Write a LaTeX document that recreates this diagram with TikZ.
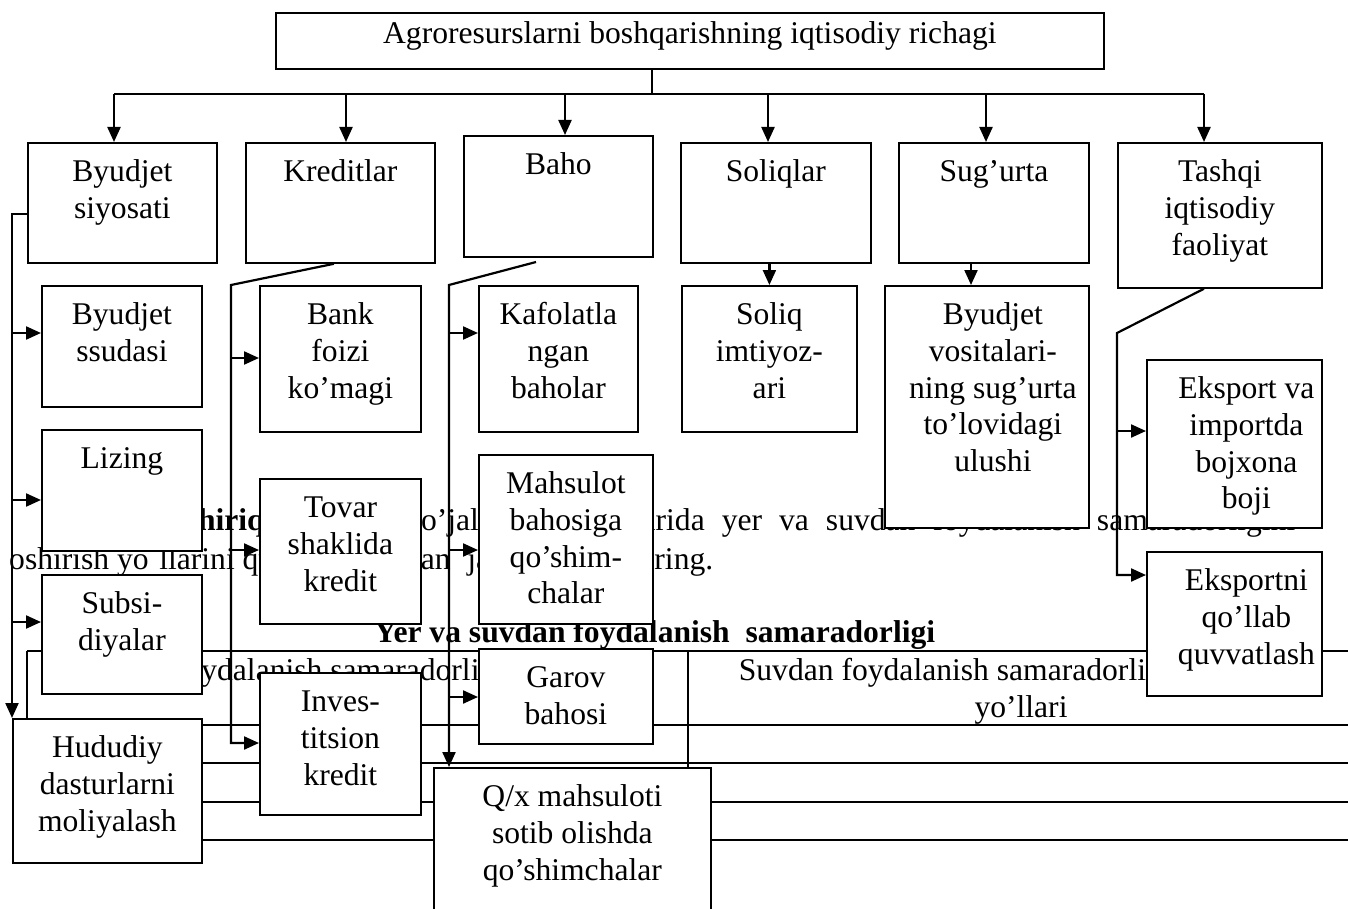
\documentclass[tikz,border=0pt]{standalone}
\usepackage{fontspec}
\setmainfont{Liberation Serif}
\usetikzlibrary{arrows.meta}

\tikzset{
  bx/.style={draw, line width=1.8pt, fill=white, anchor=north west, align=flush center,
    inner xsep=0pt, inner ysep=13pt, text height=26pt},
  txt/.style={anchor=base, inner sep=0pt},
  arr/.style={line width=2.2pt, -{Triangle[length=15pt,width=13pt]}},
  ln/.style={line width=2.2pt},
  tbl/.style={line width=1.8pt}
}

\begin{document}
\begin{tikzpicture}[x=1pt, y=-1pt,
  every node/.style={font=\fontsize{31.6pt}{36.6pt}\selectfont}]
\useasboundingbox (0,0) rectangle (1348,909);
\clip (0,0) rectangle (1348,909);

% page text and table behind the scheme
\node[txt, anchor=base west] (matn1a) at (134,530) {\textbf{Topshiriq.} Qishloq};
\node[txt, anchor=base west] (matn1b) at (405,530) {\makebox[890pt][s]{xo’jaligi korxonalarida yer va suvdan foydalanish samaradorligini}};
\node[txt, anchor=base west] (matn2a) at (9,569) {oshirish yo´llarini quyida};
\node[txt, anchor=base west] (matn2b) at (347,569) {\makebox[366pt][s]{berilgan jadvalni to´ldiring.}};
\node[txt, anchor=base west] (sarlavha) at (374,642) {\textbf{Yer va suvdan foydalanish\ \ samaradorligi}};
\foreach \y in {651,725,763,802,840}
  \draw[tbl] (27,\y) -- (1360,\y);
\draw[tbl] (27,651) -- (27,840);
\draw[tbl] (688,651) -- (688,840);
\node[txt] (yer1) at (357,680) {Yerdan foydalanish samaradorligini oshirish};
\node[txt] (yer2) at (357,717) {yo’llari};
\node[txt] (suv1) at (1021,680) {Suvdan foydalanish samaradorligini oshirish};
\node[txt] (suv2) at (1021,717) {yo’llari};

% boxes
\node[bx, text width=828pt, inner ysep=5pt, text depth=20pt] (richag) at (275,12) {Agroresurslarni boshqarishning iqtisodiy richagi};

\node[bx, text width=189pt, text depth=68pt] (byudjet) at (27,142) {Byudjet\\siyosati};
\node[bx, text width=189pt, text depth=68pt] (kredit) at (245,142) {Kreditlar};
\node[bx, text width=189pt, text depth=69pt] (baho) at (463,135) {Baho};
\node[bx, text width=190pt, text depth=68pt] (soliq) at (680,142) {Soliqlar};
\node[bx, text width=190pt, text depth=68pt] (sugurta) at (898,142) {Sug’urta};
\node[bx, text width=204pt, text depth=93pt] (tashqi) at (1117,142) {Tashqi\\iqtisodiy\\faoliyat};

\node[bx, text width=160pt, text depth=69pt] (ssuda) at (41,285) {Byudjet\\ssudasi};
\node[bx, text width=160pt, text depth=69pt] (lizing) at (41,429) {Lizing};
\node[bx, text width=160pt, text depth=67pt] (subsid) at (41,574) {Subsi-\\diyalar};
\node[bx, text width=189pt, text depth=92pt] (hududiy) at (12,718) {Hududiy\\dasturlarni\\moliyalash};

\node[bx, text width=161pt, text depth=94pt] (bank) at (259,285) {Bank\\foizi\\ko’magi};
\node[bx, text width=161pt, text depth=93pt] (tovar) at (259,478) {Tovar\\shaklida\\kredit};
\node[bx, text width=161pt, text depth=90pt] (invest) at (259,672) {Inves-\\titsion\\kredit};

\node[bx, text width=159pt, text depth=94pt] (kafolat) at (478,285) {Kafolatla\\ngan\\baholar};
\node[bx, text width=174pt, text depth=117pt] (mahsulot) at (478,454) {Mahsulot\\bahosiga\\qo’shim-\\chalar};
\node[bx, text width=174pt, text depth=43pt] (garov) at (478,648) {Garov\\bahosi};
\node[bx, text width=277pt, text depth=108pt] (qx) at (433,767) {Q/x mahsuloti\\sotib olishda\\qo’shimchalar};

\node[bx, text width=175pt, text depth=94pt] (imtiyoz) at (681,285) {Soliq\\imtiyoz-\\ari};
\node[bx, text width=204pt, text depth=190pt] (vosita) at (884,285) {\hspace*{12pt}\parbox[t]{192pt}{\centering Byudjet\\vositalari-\\ning sug’urta\\to’lovidagi\\ulushi}};
\node[bx, text width=175pt, text depth=116pt] (bojxona) at (1146,359) {\hspace*{24pt}\parbox[t]{151pt}{\centering Eksport va\\importda\\bojxona\\boji}};
\node[bx, text width=175pt, text depth=92pt] (eksport) at (1146,551) {\hspace*{24pt}\parbox[t]{151pt}{\centering Eksportni\\qo’llab\\quvvatlash}};

% top bus
\coordinate (b0) at (652,94);
\coordinate (b1) at (114,94);
\coordinate (b2) at (346,94);
\coordinate (b3) at (565,94);
\coordinate (b4) at (768,94);
\coordinate (b5) at (986,94);
\coordinate (b6) at (1204,94);
\draw[ln] (richag.south -| b0) -- (b0);
\draw[ln] (b1) -- (b6);
\foreach \b/\n in {b1/byudjet, b2/kredit, b3/baho, b4/soliq, b5/sugurta, b6/tashqi}
  \draw[arr] (\b) -- (\b |- \n.north);

% Byudjet siyosati
\coordinate (a0) at (12,214);
\coordinate (a1) at (12,333);
\coordinate (a2) at (12,500);
\coordinate (a3) at (12,622);
\draw[arr] (byudjet.west |- a0) -- (a0) -- (a0 |- hududiy.north);
\draw[arr] (a1) -- (a1 -| ssuda.west);
\draw[arr] (a2) -- (a2 -| lizing.west);
\draw[arr] (a3) -- (a3 -| subsid.west);

% Kreditlar
\coordinate (c0) at (231,285);
\coordinate (c1) at (231,358);
\coordinate (c2) at (231,550);
\coordinate (c3) at (231,743);
\draw[arr] ([xshift=-6.5pt]kredit.south) -- (c0) -- (c3) -- (c3 -| invest.west);
\draw[arr] (c1) -- (c1 -| bank.west);
\draw[arr] (c2) -- (c2 -| tovar.west);

% Baho
\coordinate (d0) at (536,262);
\coordinate (d1) at (449,285);
\coordinate (d2) at (449,333);
\coordinate (d3) at (449,550);
\coordinate (d4) at (449,697);
\draw[arr] (d0) -- (d1) -- (d1 |- qx.north);
\draw[arr] (d2) -- (d2 -| kafolat.west);
\draw[arr] (d3) -- (d3 -| mahsulot.west);
\draw[arr] (d4) -- (d4 -| garov.west);

% Soliqlar, Sug'urta
\draw[arr] (soliq.south -| imtiyoz.north) -- (imtiyoz.north);
\coordinate (e0) at (971,262);
\draw[arr] (e0) -- (e0 |- vosita.north);

% Tashqi iqtisodiy faoliyat
\coordinate (f0) at (1117,333);
\coordinate (f1) at (1117,431);
\coordinate (f2) at (1117,575);
\draw[arr] ([xshift=-16pt]tashqi.south) -- (f0) -- (f2) -- (f2 -| eksport.west);
\draw[arr] (f1) -- (f1 -| bojxona.west);
\end{tikzpicture}
\end{document}
